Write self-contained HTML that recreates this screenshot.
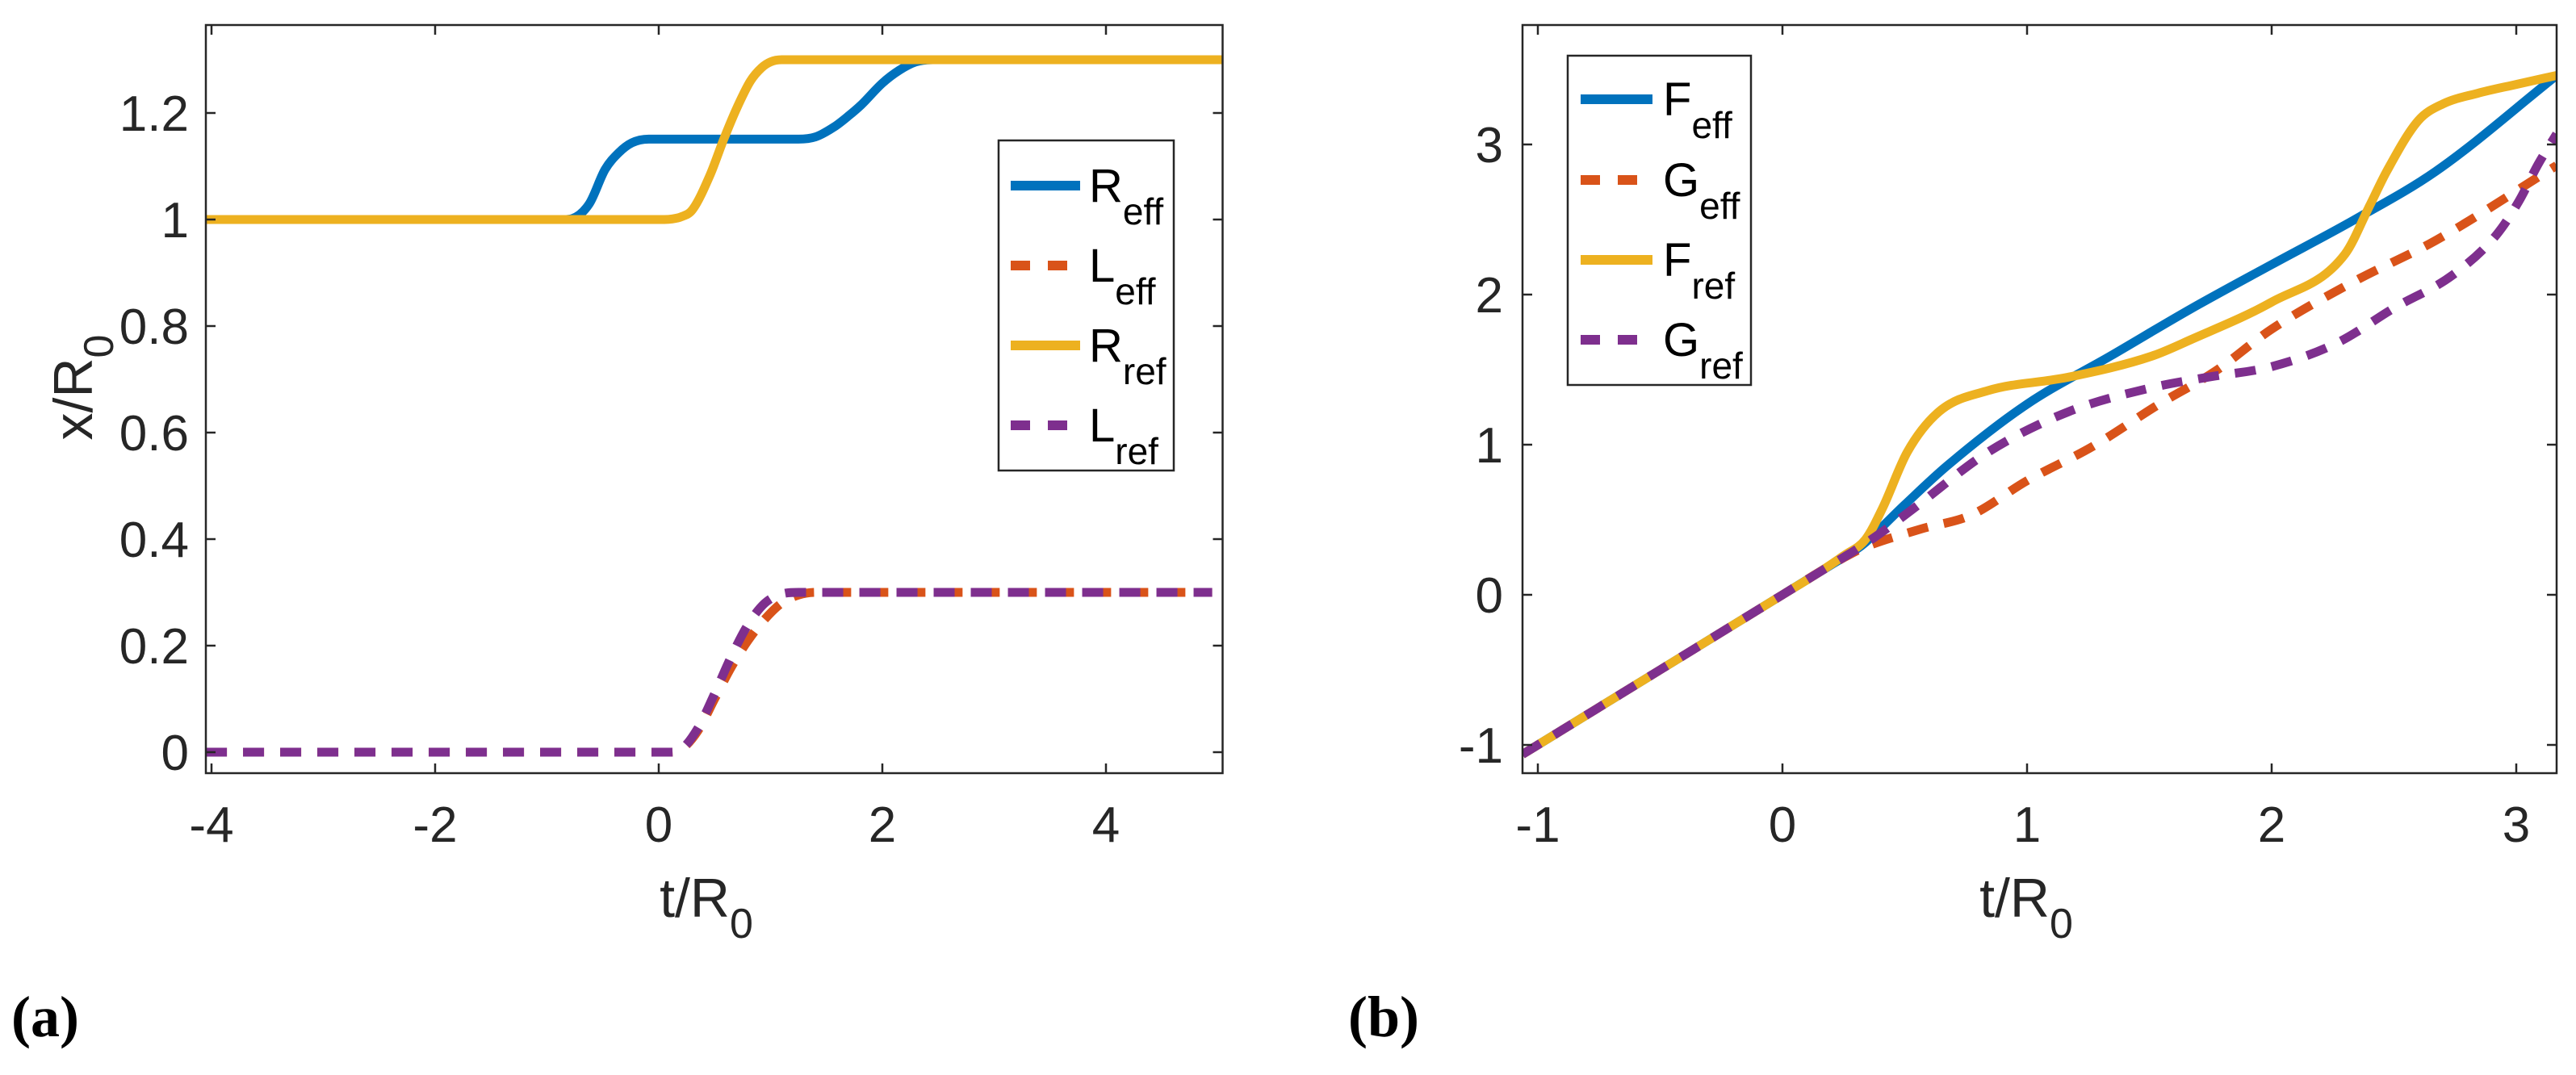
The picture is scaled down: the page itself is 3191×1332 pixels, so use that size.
<!DOCTYPE html>
<html><head><meta charset="utf-8"><style>
html,body{margin:0;padding:0;background:#fff;}
svg{display:block;font-family:"Liberation Sans",Arial,sans-serif;}
</style></head><body>
<svg id="fig" width="3191" height="1332" viewBox="0 0 3191 1332" xmlns="http://www.w3.org/2000/svg">
<defs>
<clipPath id="clipA"><rect x="255" y="31" width="1259.5" height="927"/></clipPath>
<clipPath id="clipB"><rect x="1886" y="31" width="1281" height="927"/></clipPath>
</defs>
<g id="panelA"></g>
<g id="panelB"></g>
<text x="14" y="1284" font-family="Liberation Serif, serif" font-weight="bold" font-size="72" fill="#000">(a)</text>
<text x="1670" y="1284" font-family="Liberation Serif, serif" font-weight="bold" font-size="72" fill="#000">(b)</text>
</svg>
<script>
// ---- Panel (a) data ----
const aRt = [-4.05,-0.85,-0.77,-0.62,-0.48,-0.36,-0.24,-0.09,0,1.25,1.4,1.57,1.7,1.81,2.0,2.15,2.3,2.45,5.05];
const aRv = [1,1,1.002,1.03,1.094,1.125,1.144,1.151,1.151,1.151,1.155,1.174,1.195,1.215,1.256,1.28,1.296,1.3,1.3];
const aRrt = [-4.05,0.05,0.12,0.2,0.3,0.46,0.58,0.7,0.82,0.92,1.0,1.1,5.05];
const aRrv = [1,1,1.001,1.005,1.018,1.084,1.15,1.21,1.26,1.285,1.296,1.3,1.3];
const aLt = [-4.05,0.1,0.2,0.35,0.5,0.65,0.8,0.95,1.1,1.25,1.4,4.95];
const aLv = [0,0,0.005,0.04,0.1,0.16,0.21,0.25,0.28,0.295,0.3,0.3];
const aLrv = [0,0,0.005,0.045,0.11,0.18,0.24,0.28,0.297,0.3,0.3,0.3];
const aXticks = [-4,-2,0,2,4];
const aXtickLabels = ["-4","-2","0","2","4"];
const aYticks = [0,0.2,0.4,0.6,0.8,1,1.2];
const aYtickLabels = ["0","0.2","0.4","0.6","0.8","1","1.2"];
// ---- Panel (b) data ----
const bFt = [-1.063,-0.5,0,0.2,0.3,0.34,0.5,0.67,1.0,1.34,1.67,2.0,2.34,2.67,3.165];
const bFv = [-1.063,-0.5,0,0.2,0.3,0.35,0.6,0.855,1.27,1.59,1.905,2.2,2.5,2.82,3.46];
const bGt = [-1.063,-0.5,0,0.2,0.3,0.34,0.57,0.77,1.0,1.27,1.54,1.77,2.0,2.34,2.67,3.165];
const bGv = [-1.063,-0.5,0,0.2,0.29,0.32,0.44,0.53,0.76,0.99,1.27,1.49,1.77,2.09,2.36,2.86];
const bFrt = [-1.063,-0.5,0,0.15,0.25,0.34,0.41,0.51,0.64,0.84,1.17,1.51,1.67,2.0,2.3,2.4,2.47,2.6,2.7,2.84,3.0,3.165];
const bFrv = [-1.063,-0.5,0,0.15,0.26,0.37,0.58,0.95,1.22,1.36,1.45,1.59,1.70,1.95,2.27,2.59,2.82,3.16,3.27,3.34,3.4,3.46];
const bGrt = [-1.063,-0.5,0,0.2,0.3,0.4,0.54,0.84,1.17,1.51,1.74,2.0,2.27,2.5,2.74,2.92,3.01,3.09,3.165];
const bGrv = [-1.063,-0.5,0,0.2,0.3,0.41,0.58,0.95,1.22,1.38,1.45,1.52,1.68,1.91,2.13,2.4,2.62,2.87,3.07];
const bXticks = [-1,0,1,2,3];
const bXtickLabels = ["-1","0","1","2","3"];
const bYticks = [-1,0,1,2,3];
const bYtickLabels = ["-1","0","1","2","3"];

const NS="http://www.w3.org/2000/svg";
const AX="#262626";
function mk(tag,attrs,parent){const e=document.createElementNS(NS,tag);for(const k in attrs)e.setAttribute(k,attrs[k]);parent.appendChild(e);return e;}
function smoothPath(xs,ys){
  const n=xs.length;let d=[],m=[];
  for(let i=0;i<n-1;i++)d.push((ys[i+1]-ys[i])/(xs[i+1]-xs[i]));
  m[0]=d[0];m[n-1]=d[n-2];
  for(let i=1;i<n-1;i++){if(d[i-1]*d[i]<=0)m[i]=0;else m[i]=(d[i-1]+d[i])/2;}
  for(let i=0;i<n-1;i++){if(d[i]===0){m[i]=0;m[i+1]=0;continue;}const a=m[i]/d[i],b=m[i+1]/d[i];const s=a*a+b*b;if(s>9){const t=3/Math.sqrt(s);m[i]=t*a*d[i];m[i+1]=t*b*d[i];}}
  let p="M"+xs[0]+","+ys[0];
  for(let i=0;i<n-1;i++){const h=xs[i+1]-xs[i];p+=" C"+(xs[i]+h/3)+","+(ys[i]+m[i]*h/3)+" "+(xs[i+1]-h/3)+","+(ys[i+1]-m[i+1]*h/3)+" "+xs[i+1]+","+ys[i+1];}
  return p;
}
function drawAxes(g,box,sx,sy,xt,xtl,yt,ytl,ylabRight){
  const [x0,y0,x1,y1]=box;
  mk("rect",{x:x0,y:y0,width:x1-x0,height:y1-y0,fill:"none",stroke:AX,"stroke-width":2.5},g);
  const tl=12;
  xt.forEach((v,i)=>{const x=sx(v);
    const t1=mk("line",{x1:x,y1:y1,x2:x,y2:y1-tl,stroke:AX,"stroke-width":2.5},g);
    
    const t2=mk("line",{x1:x,y1:y0,x2:x,y2:y0+tl,stroke:AX,"stroke-width":2.5},g);
    
    const tx=mk("text",{x:x,y:1043,"text-anchor":"middle","font-size":62,fill:AX},g);
    
    
    tx.textContent=xtl[i];});
  yt.forEach((v,i)=>{const y=sy(v);
    const t1=mk("line",{x1:x0,y1:y,x2:x0+tl,y2:y,stroke:AX,"stroke-width":2.5},g);
    
    const t2=mk("line",{x1:x1,y1:y,x2:x1-tl,y2:y,stroke:AX,"stroke-width":2.5},g);
    
    const tx=mk("text",{x:ylabRight,y:y+22,"text-anchor":"end","font-size":62,fill:AX},g);
    
    
    tx.textContent=ytl[i];});
}
function series(g,clip,sx,sy,ts,vs,color,dashed,name){
  const xs=ts.map(sx),ys=vs.map(sy);
  const p=mk("path",{d:smoothPath(xs,ys),fill:"none",stroke:color,"stroke-width":11,"clip-path":"url(#"+clip+")"},g);
  if(dashed)p.setAttribute("stroke-dasharray","26 20");
  
  
}
function legend(g,box,entries){
  const [x0,y0,x1,y1,lx0,lx1,tx]=box;
  const r=mk("rect",{x:x0,y:y0,width:x1-x0,height:y1-y0,fill:"#fff",stroke:AX,"stroke-width":2.5},g);
  
  
  entries.forEach(e=>{
    const l=mk("line",{x1:lx0,y1:e.y,x2:lx1,y2:e.y,stroke:e.c,"stroke-width":12},g);
    if(e.d)l.setAttribute("stroke-dasharray","24 22");
    
    const t=mk("text",{x:tx,y:e.y+20,"font-size":58,fill:"#000"},g);
    
    
    t.textContent=e.main;
    const s=mk("tspan",{dy:28,"font-size":46},t);s.textContent=e.sub;
  });
}
function axisLabel(g,x,y,rot,name){
  const t=mk("text",{x:x,y:y,"text-anchor":"middle","font-size":68,fill:AX},g);
  if(rot)t.setAttribute("transform","rotate(-90 "+x+" "+y+")");
  
  
  t.textContent=rot?"x/R":"t/R";
  const s=mk("tspan",{dy:26,"font-size":52},t);s.textContent="0";
}
(function(){
  const g=document.getElementById("panelA");
  const sx=t=>262+(t+4)*138.5, sy=v=>932-660*v;
  series(g,"clipA",sx,sy,aRt,aRv,"#0072BD",false,"r-eff-line");
  series(g,"clipA",sx,sy,aLt,aLv,"#D95319",true,"l-eff-line");
  series(g,"clipA",sx,sy,aRrt,aRrv,"#EDB120",false,"r-ref-line");
  series(g,"clipA",sx,sy,aLt,aLrv,"#7E2F8E",true,"l-ref-line");
  drawAxes(g,[255,31,1514.5,958],sx,sy,aXticks,aXtickLabels,aYticks,aYtickLabels,234);
  legend(g,[1237,174,1454,583,1252,1338,1349],[
    {y:230,c:"#0072BD",d:false,main:"R",sub:"eff"},
    {y:329,c:"#D95319",d:true,main:"L",sub:"eff"},
    {y:428,c:"#EDB120",d:false,main:"R",sub:"ref"},
    {y:527,c:"#7E2F8E",d:true,main:"L",sub:"ref"}]);
  axisLabel(g,875,1136,false,"x-axis-title");
  axisLabel(g,114,480,true,"y-axis-title");
})();
(function(){
  const g=document.getElementById("panelB");
  const sx=t=>1905+(t+1)*303, sy=v=>737-186*v;
  series(g,"clipB",sx,sy,bFt,bFv,"#0072BD",false,"f-eff-line");
  series(g,"clipB",sx,sy,bGt,bGv,"#D95319",true,"g-eff-line");
  series(g,"clipB",sx,sy,bFrt,bFrv,"#EDB120",false,"f-ref-line");
  series(g,"clipB",sx,sy,bGrt,bGrv,"#7E2F8E",true,"g-ref-line");
  drawAxes(g,[1886,31,3167,958],sx,sy,bXticks,bXtickLabels,bYticks,bYtickLabels,1862);
  legend(g,[1942,69,2169,477,1958,2047,2060],[
    {y:123,c:"#0072BD",d:false,main:"F",sub:"eff"},
    {y:223,c:"#D95319",d:true,main:"G",sub:"eff"},
    {y:322,c:"#EDB120",d:false,main:"F",sub:"ref"},
    {y:421,c:"#7E2F8E",d:true,main:"G",sub:"ref"}]);
  axisLabel(g,2510,1136,false,"x-axis-title");
})();
</script>
</body></html>
